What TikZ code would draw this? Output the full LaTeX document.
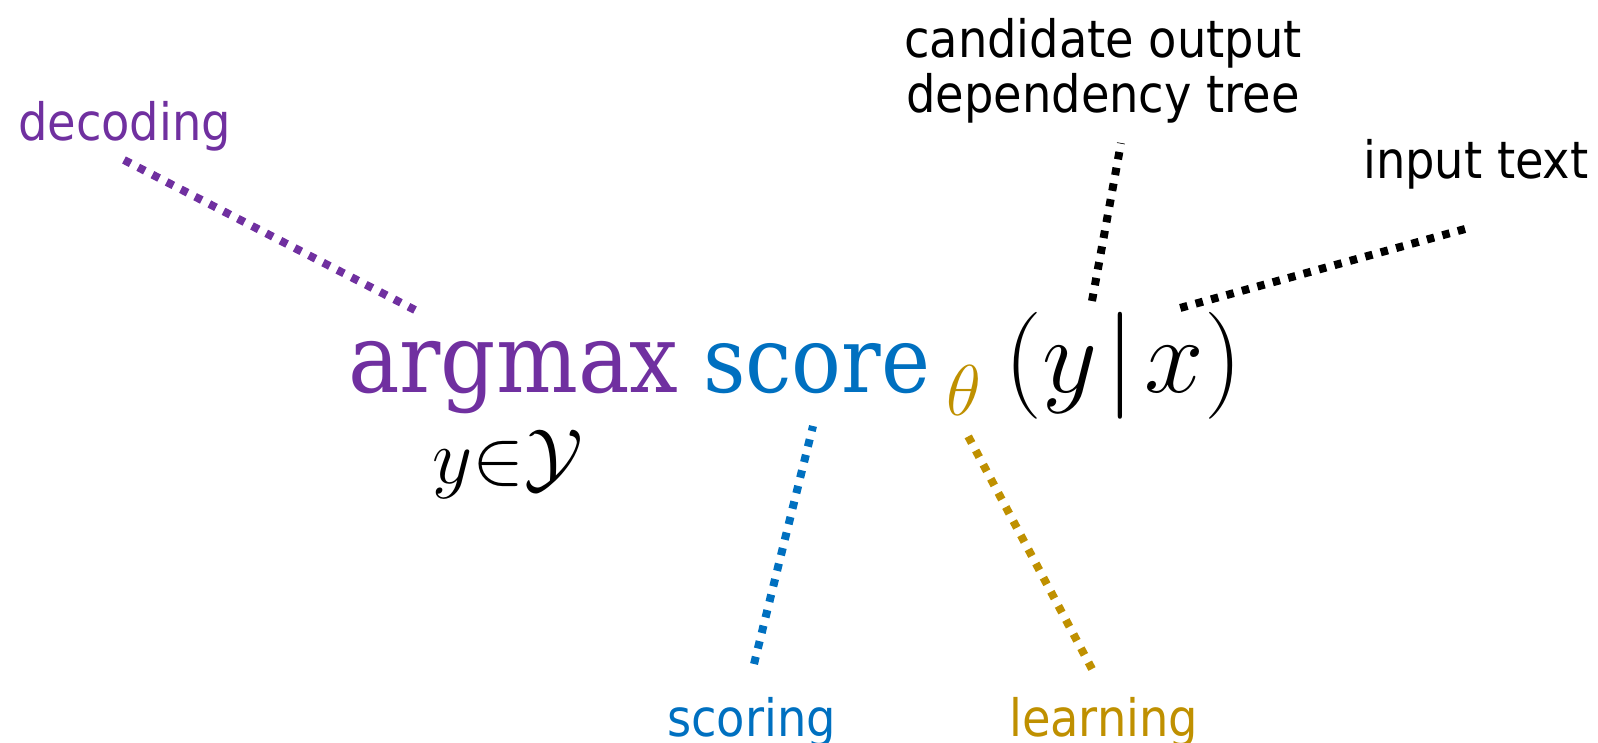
\RequirePackage{fix-cm}
\documentclass[tikz,border=0pt]{standalone}
\usepackage{fontspec}
\usepackage{amsmath,amssymb}
\newfontfamily\labelfont{DejaVu Sans Condensed}
\newfontfamily\formfont{DejaVu Serif Condensed}
\definecolor{decpurple}{HTML}{7030A0}
\definecolor{scoreblue}{HTML}{0070C0}
\definecolor{learngold}{HTML}{BF9000}

\begin{document}
\begin{tikzpicture}[
    x=1pt, y=-1pt,
    lbl/.style={inner sep=0pt, font=\labelfont\fontsize{51.5}{55}\selectfont},
    formula/.style={inner sep=0pt, font=\formfont\fontsize{96}{110}\selectfont},
    mathpart/.style={inner sep=0pt},
    dotline/.style={line width=8pt, dash pattern=on 7.5pt off 8.5pt}
]
\useasboundingbox (0,0) rectangle (1598,743);

% Formula
\node[formula, text=decpurple, anchor=base west] (argmax) at (348,392) {argmax};
\node[formula, text=scoreblue, anchor=base west, font=\formfont\fontsize{92}{110}\selectfont] (score) at (703,392) {score};
\node[mathpart, text=learngold, anchor=base west, font=\fontsize{72}{76}\selectfont] (theta) at (946,415) {$\theta$};
\node[mathpart, anchor=base west, font=\fontsize{107}{120}\selectfont] (cond) at (1004,392) {$(y\mkern1.5mu|\mkern1.5mu x)$};
\node[mathpart, anchor=base, font=\fontsize{78}{80}\selectfont] (domain) at (508,483) {$y{\in}\mathcal{Y}$};

% Labels
\node[lbl, text=decpurple, anchor=base west] (decoding) at (18,141) {decoding};
\node[lbl, align=center, anchor=base] (candidate) at (1103,113) {candidate output\\dependency tree};
\node[lbl, anchor=base west] (input) at (1363,179) {input text};
\node[lbl, text=scoreblue, anchor=base west] (scoring) at (667,736) {scoring};
\node[lbl, text=learngold, anchor=base west] (learning) at (1009,736) {learning};

% Line ends
\coordinate (dec-top) at (124,160);
\coordinate (dec-bot) at (415,310);
\coordinate (cand-top) at (1121,143);
\coordinate (cand-bot) at (1092,301);
\coordinate (inp-top) at (1465,229);
\coordinate (inp-bot) at (1180,308);
\coordinate (sco-top) at (813,426);
\coordinate (sco-bot) at (754,664);
\coordinate (lea-top) at (968,436);
\coordinate (lea-bot) at (1092,669);

% Connections
\draw[dotline, decpurple] (dec-top) -- (dec-bot);
\draw[dotline, black] (cand-bot) -- (cand-top);
\draw[dotline, black] (inp-top) -- (inp-bot);
\draw[dotline, scoreblue] (sco-bot) -- (sco-top);
\draw[dotline, learngold] (lea-bot) -- (lea-top);

\end{tikzpicture}
\end{document}
